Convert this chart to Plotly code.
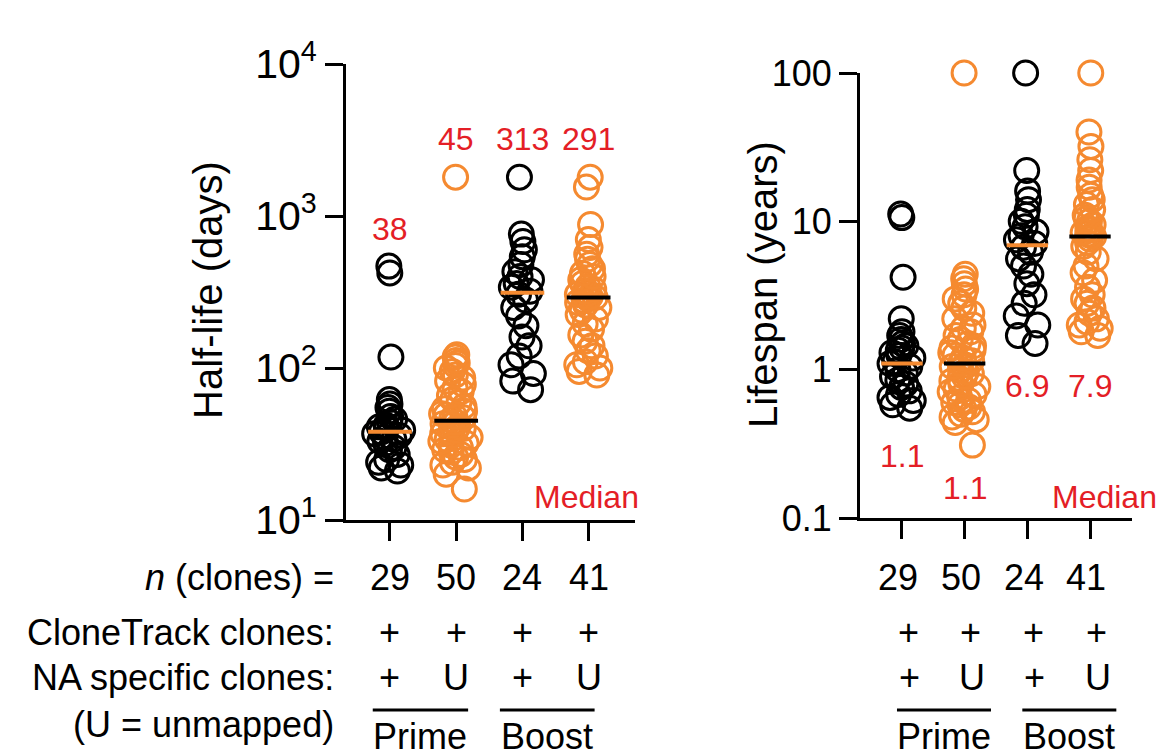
import plotly.graph_objects as go

W, H = 1166, 756
FONT = "Liberation Sans, Arial, sans-serif"
BLACK = "#000000"
ORANGE = "#F58A30"
RED = "#E41E26"

# ---------------- data ----------------
groups = ["Prime +/+", "Prime +/U", "Boost +/+", "Boost +/U"]
group_colors = [BLACK, ORANGE, BLACK, ORANGE]
median_colors = [ORANGE, BLACK, ORANGE, BLACK]
n_clones = ["29", "50", "24", "41"]
clonetrack_row = ["+", "+", "+", "+"]
na_specific_row = ["+", "U", "+", "U"]
row_labels = ["<i>n</i> (clones) =", "CloneTrack clones:", "NA specific clones:", "(U = unmapped)"]
phase_labels = ["Prime", "Boost"]

halflife_prime_pos = [468, 422, 118, 62, 58, 55, 52, 48, 46, 44, 42, 41, 40, 39, 38,
                      37, 36, 35, 34, 33, 32, 30, 29, 27, 25, 24, 23, 22, 21]
halflife_prime_u = [1800, 122, 118, 112, 108, 104, 100, 95, 90, 86, 82, 78, 74, 70, 66,
                    62, 59, 56, 54, 52, 50, 49, 48, 47, 46, 44, 43, 42, 41, 40, 39, 38,
                    37, 36, 35, 34, 33, 32, 31, 30, 29, 28, 27, 26, 25, 24, 23, 22, 20, 16]
halflife_boost_pos = [1800, 760, 680, 600, 540, 480, 430, 400, 380, 360, 340, 320, 306,
                      280, 250, 220, 190, 160, 140, 120, 105, 92, 82, 72]
halflife_boost_u = [1800, 1550, 880, 700, 620, 560, 520, 480, 450, 420, 400, 380, 360, 345,
                    330, 320, 312, 305, 300, 295, 291, 285, 278, 270, 260, 250, 240, 225,
                    210, 195, 180, 165, 150, 140, 130, 120, 110, 105, 100, 95, 90]
halflife_medians = [38, 45, 313, 291]
halflife_median_labels = ["38", "45", "313", "291"]

lifespan_prime_pos = [11.2, 10.6, 4.2, 2.2, 1.8, 1.7, 1.6, 1.5, 1.45, 1.4, 1.35, 1.3, 1.25,
                      1.2, 1.13, 1.1, 1.05, 1.0, 0.95, 0.9, 0.85, 0.8, 0.76, 0.72, 0.68,
                      0.65, 0.62, 0.58, 0.55]
lifespan_prime_u = [100, 4.4, 4.1, 3.8, 3.5, 3.2, 3.0, 2.8, 2.6, 2.4, 2.2, 2.0, 1.9, 1.8,
                    1.7, 1.6, 1.5, 1.45, 1.4, 1.35, 1.3, 1.25, 1.2, 1.15, 1.1, 1.08, 1.05,
                    1.0, 0.97, 0.94, 0.9, 0.87, 0.84, 0.8, 0.77, 0.74, 0.71, 0.68, 0.65,
                    0.62, 0.6, 0.58, 0.56, 0.54, 0.52, 0.5, 0.48, 0.46, 0.44, 0.31]
lifespan_boost_pos = [100, 22, 16, 14, 12, 11, 10, 9.2, 8.5, 8.0, 7.5, 7.1, 6.7, 6.2, 5.6,
                      5.0, 4.4, 3.8, 3.2, 2.8, 2.3, 2.0, 1.7, 1.5]
lifespan_boost_u = [100, 40, 32, 26, 22, 19, 17, 15, 14, 13, 12, 11, 10.5, 10, 9.5, 9.0,
                    8.7, 8.4, 8.2, 8.0, 7.9, 7.6, 7.2, 6.8, 6.2, 5.6, 5.0, 4.5, 4.0, 3.6,
                    3.2, 3.0, 2.8, 2.6, 2.4, 2.2, 2.1, 2.0, 1.9, 1.8, 1.7]
lifespan_medians = [1.1, 1.1, 6.9, 7.9]
lifespan_median_labels = ["1.1", "1.1", "6.9", "7.9"]

halflife_ticks = [10, 100, 1000, 10000]
halflife_ticktext = ["10<sup>1</sup>", "10<sup>2</sup>", "10<sup>3</sup>", "10<sup>4</sup>"]
lifespan_ticks = [0.1, 1, 10, 100]
lifespan_ticktext = ["0.1", "1", "10", "100"]

halflife = [halflife_prime_pos, halflife_prime_u, halflife_boost_pos, halflife_boost_u]
lifespan = [lifespan_prime_pos, lifespan_prime_u, lifespan_boost_pos, lifespan_boost_u]


def px(p):
    return p / W


def py(p):
    return 1 - p / H


# layout geometry (pixels)
L_TOP, L_BOT = 64, 520
R_TOP, R_BOT = 73, 518
R_DEC = (R_BOT - R_TOP) / 3.0          # pixels per decade, right panel
R_EXTRA = 0.12                          # headroom (decades) for points at the top

fig = go.Figure()

# empty trace so that the visible right-hand axis pair (x2, y2) is drawn
fig.add_trace(go.Scatter(x=[], y=[], xaxis="x2", yaxis="y2", showlegend=False,
                         hoverinfo="skip"))

panels = [
    dict(data=halflife, medians=halflife_medians, xa="x", pa="y"),
    dict(data=lifespan, medians=lifespan_medians, xa="x2", pa="y3"),
]
for pn in panels:
    for i, vals in enumerate(pn["data"]):
        fig.add_trace(go.Box(
            x=[i] * len(vals), y=vals, xaxis=pn["xa"], yaxis=pn["pa"],
            boxpoints="all", jitter=0.95, pointpos=0, width=0.5,
            fillcolor="rgba(0,0,0,0)", line=dict(width=0, color="rgba(0,0,0,0)"),
            marker=dict(symbol="circle-open", size=24, color=group_colors[i],
                        line=dict(width=3, color=group_colors[i])),
            showlegend=False, hoverinfo="y"))
    for i, m in enumerate(pn["medians"]):
        fig.add_trace(go.Scatter(
            x=[i - 0.33, i + 0.33], y=[m, m], xaxis=pn["xa"], yaxis=pn["pa"],
            mode="lines", line=dict(color=median_colors[i], width=4),
            showlegend=False, hoverinfo="skip"))

axis_common = dict(showline=True, linewidth=3, linecolor=BLACK, ticks="outside",
                   ticklen=18, tickwidth=3, tickcolor=BLACK, showgrid=False,
                   zeroline=False, automargin=False)

fig.update_layout(
    template="none",
    width=W, height=H, autosize=False,
    margin=dict(l=0, r=0, t=0, b=0, pad=0),
    paper_bgcolor="white", plot_bgcolor="rgba(0,0,0,0)",
    boxmode="overlay",
    font=dict(family=FONT, color=BLACK),
    xaxis=dict(domain=[px(346), px(635)], range=[-0.664, 3.70], anchor="y",
               tickvals=[0, 1, 2, 3], showticklabels=False, **axis_common),
    yaxis=dict(domain=[py(L_BOT), py(L_TOP)], type="log", range=[1, 4], anchor="x",
               tickvals=halflife_ticks, ticktext=halflife_ticktext,
               tickfont=dict(size=41, family=FONT, color=BLACK), **axis_common),
    xaxis2=dict(domain=[px(860), px(1132)], range=[-0.67, 3.67], anchor="y2",
                tickvals=[0, 1, 2, 3], showticklabels=False, **axis_common),
    yaxis2=dict(domain=[py(R_BOT), py(R_TOP)], type="log", range=[-1, 2], anchor="x2",
                tickvals=lifespan_ticks, ticktext=lifespan_ticktext,
                tickfont=dict(size=36, family=FONT, color=BLACK), **axis_common),
    # same scale as yaxis2, with a little headroom so the top circles are not clipped
    yaxis3=dict(domain=[py(R_BOT), py(R_TOP - R_EXTRA * R_DEC)], type="log",
                range=[-1, 2 + R_EXTRA], anchor="x2", visible=False,
                showgrid=False, zeroline=False, automargin=False),
)

ann = []


def text(t, x, y, xref="paper", size=36, color=BLACK, xanchor="center", angle=0):
    ann.append(dict(text=t, x=x, y=y, xref=xref, yref="paper", showarrow=False,
                    xanchor=xanchor, yanchor="middle", textangle=angle,
                    font=dict(size=size, color=color, family=FONT)))


# axis titles
text("Half-life (days)", px(208), py(290), size=40, angle=-90)
text("Lifespan (years)", px(763), py(285), size=40, angle=-90)

# median labels
left_label_y = [227, 137, 137, 137]
right_label_y = [454, 486, 384, 384]
for i in range(4):
    text(halflife_median_labels[i], i, py(left_label_y[i] + 2), xref="x", size=32, color=RED)
    text(lifespan_median_labels[i], i, py(right_label_y[i] + 2), xref="x2", size=32, color=RED)
text("Median", px(641), py(497), size=32, color=RED, xanchor="right")
text("Median", px(1159), py(497), size=32, color=RED, xanchor="right")

# table
row_y = [575, 630, 675, 722]
for lab, yy in zip(row_labels, row_y):
    text(lab, px(336), py(yy + 2), xanchor="right")
rows = [n_clones, clonetrack_row, na_specific_row]
right_shift = [-0.06, 0.1, 0.12]
for r, (row, yy) in enumerate(zip(rows, row_y[:3])):
    for i, t in enumerate(row):
        text(t, i, py(yy + 2), xref="x")
        text(t, i + right_shift[r], py(yy + 2), xref="x2")

# Prime / Boost brackets
spans_left = [(-0.26, 1.18), (1.66, 3.09)]
spans_right = [(-0.08, 1.42), (1.92, 3.42)]
shapes = []
for xr, spans in (("x", spans_left), ("x2", spans_right)):
    for (a, b), lab in zip(spans, phase_labels):
        shapes.append(dict(type="line", xref=xr, yref="paper", x0=a, x1=b,
                           y0=py(710), y1=py(710), line=dict(color=BLACK, width=3)))
        text(lab, (a + b) / 2, py(736), xref=xr)

fig.update_layout(annotations=ann, shapes=shapes)
fig.write_html("out.html",
               config={"displayModeBar": False},
               post_script="document.body.style.margin='0px';"
                           "document.body.style.overflow='hidden';")
